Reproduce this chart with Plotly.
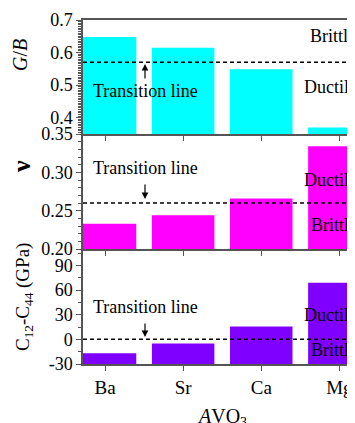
import plotly.graph_objects as go

# ---- data ----
categories = ["Ba", "Sr", "Ca", "Mg"]
gb_values = [0.648, 0.615, 0.549, 0.370]
nu_values = [0.233, 0.244, 0.266, 0.334]
cp_values = [-17, -5, 15.5, 69]
gb_transition = 0.57
nu_transition = 0.26
cp_transition = 0
gb_range = [0.35, 0.7]
nu_range = [0.20, 0.35]
cp_range = [-30, 110]

OFF = 8
W, H = 355 - OFF, 423 - OFF
PLOT_L, PLOT_R, PLOT_T, PLOT_B = 83, 355, 20, 364
L, T = PLOT_L - OFF, PLOT_T - OFF
R = 0
B = H - (PLOT_B - OFF)
PW, PH = W - L - R, H - T - B
FONT = "Liberation Serif"


def px(xp):
    return (xp - PLOT_L) / PW


def py(yp):
    return (PLOT_B - yp) / PH


fig = go.Figure()

colors = ["#00FFFF", "#FF00FF", "#8000FF"]
series = [(gb_values, gb_range, "y"), (nu_values, nu_range, "y2"), (cp_values, cp_range, "y3")]
xaxes = ["x", "x2", "x3"]
for (vals, rng, ya), c, xa in zip(series, colors, xaxes):
    fig.add_trace(go.Bar(
        x=categories, y=[v - rng[0] for v in vals], base=rng[0],
        marker=dict(color=c, line=dict(width=0)), width=0.8,
        xaxis=xa, yaxis=ya, showlegend=False, hoverinfo="skip"))

d_bot = [0, 115 / PH]
d_mid = [115 / PH, 230 / PH]
d_top = [230 / PH, 1]

xr = [-0.282, 3.2]
axcol = "#555555"
common_x = dict(range=xr, showline=True, linecolor=axcol, linewidth=1.5,
                ticks="outside", ticklen=5, tickcolor=axcol, tickwidth=1.2,
                showgrid=False, zeroline=False, type="category")
fig.update_layout(
    xaxis=dict(**common_x, anchor="y", showticklabels=False, mirror=True),
    xaxis2=dict(**common_x, anchor="y2", showticklabels=False, matches="x"),
    xaxis3=dict(**common_x, anchor="y3", showticklabels=True, matches="x",
                tickfont=dict(family=FONT, size=19, color="black")),
)

common_y = dict(showline=True, linecolor=axcol, linewidth=1.5, ticks="outside",
                ticklen=5, tickcolor=axcol, tickwidth=1.2, showgrid=False,
                zeroline=False, tickfont=dict(family=FONT, size=18, color="black"))
fig.update_layout(
    yaxis=dict(**common_y, domain=d_top, range=gb_range, anchor="x",
               tickvals=[0.35, 0.4, 0.5, 0.6, 0.7],
               ticktext=["0.35", "0.4", "0.5", "0.6", "0.7"],
               minor=dict(dtick=0.005, ticklen=3, ticks="outside", tickcolor=axcol)),
    yaxis2=dict(**common_y, domain=d_mid, range=nu_range, anchor="x2",
                tickvals=[0.20, 0.25, 0.30], ticktext=["0.20", "0.25", "0.30"],
                minor=dict(dtick=0.01, ticklen=3, ticks="outside", tickcolor=axcol)),
    yaxis3=dict(**common_y, domain=d_bot, range=cp_range, anchor="x3",
                tickvals=[-30, 0, 30, 60, 90], ticktext=["-30", "0", "30", "60", "90"],
                minor=dict(dtick=15, ticklen=3, ticks="outside", tickcolor=axcol)),
)

for yv, ya in [(gb_transition, "y"), (nu_transition, "y2"), (cp_transition, "y3")]:
    fig.add_shape(type="line", xref="x domain", yref=ya, x0=0, x1=1, y0=yv, y1=yv,
                  line=dict(color="black", width=1.5, dash="4px,3px"))

ann = []


def text(x, y, s, anchor="left", size=18, angle=0, yanchor="middle"):
    ann.append(dict(xref="paper", yref="paper", x=px(x), y=py(y), text=s,
                    showarrow=False, xanchor=anchor, yanchor=yanchor,
                    textangle=angle, font=dict(family=FONT, size=size, color="black")))


for yy in [91, 168, 307]:
    text(91, yy, "Transition line")
text(308, 36, "Brittle")
text(302, 87, "Ductile")
text(302, 180, "Ductile")
text(309, 225, "Brittle")
text(302, 315, "Ductile")
text(309, 350, "Brittle")

for head, ay in [(64, 16), (199, -16), (337, -15)]:
    ann.append(dict(xref="paper", yref="paper", x=px(145), y=py(head), ax=0, ay=ay,
                    text="", showarrow=True, arrowhead=2, arrowsize=1.1,
                    arrowwidth=1.2, arrowcolor="black", standoff=0))

text(20, 55, "<i>G</i>/<i>B</i>", anchor="center", size=20, angle=-90)
text(21, 167, "<b>ν</b>", anchor="center", size=26, angle=-90)
text(24, 297, "C<sub>12</sub>-C<sub>44</sub> (GPa)", anchor="center", size=19, angle=-90)
ann.append(dict(xref="paper", yref="paper", x=px(222), y=py(403), text="<i>A</i>VO<sub>3</sub>",
                showarrow=False, xanchor="center", yanchor="top",
                font=dict(family=FONT, size=20, color="black")))

fig.update_layout(
    annotations=ann,
    width=W, height=H,
    margin=dict(l=L, r=R, t=T, b=B, pad=0),
    plot_bgcolor="white", paper_bgcolor="white",
)

fig.write_html("out.html")
